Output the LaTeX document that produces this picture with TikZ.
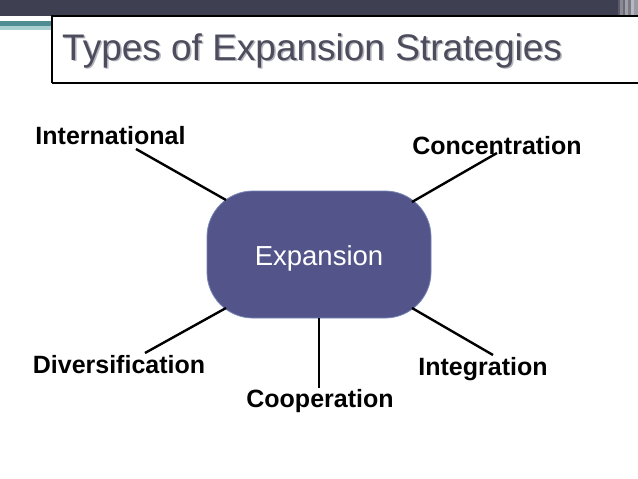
\documentclass[tikz,border=0pt]{standalone}
\usepackage{fontspec}
\setmainfont{Liberation Sans}
\definecolor{barcol}{HTML}{3F3F52}
\definecolor{tealA}{HTML}{4E8E92}
\definecolor{tealB}{HTML}{A9CFD0}
\definecolor{boxfill}{HTML}{53558A}
\definecolor{boxline}{HTML}{7585B5}
\definecolor{titlecol}{HTML}{4C4C5C}
\definecolor{shadowcol}{HTML}{B4B4BC}
\definecolor{sA}{HTML}{5A5A6A}
\definecolor{sB}{HTML}{8A8A95}
\definecolor{sC}{HTML}{6A6A78}
\definecolor{sD}{HTML}{A0A0A8}
\definecolor{sE}{HTML}{7A7A85}
\definecolor{sF}{HTML}{B8B8C0}
\definecolor{sG}{HTML}{9A9AA5}
\tikzset{
  lbl/.style={anchor=base, inner sep=0pt, font=\bfseries\fontsize{25}{28}\selectfont, text=black},
  conn/.style={line width=2.4pt, black},
}
\begin{document}
\begin{tikzpicture}[x=1pt,y=-1pt]
\useasboundingbox (0,0) rectangle (638,479);
\fill[white] (0,0) rectangle (638,479);
% top bar
\fill[barcol] (0,0) rectangle (638,16);
\fill[sA] (618,0) rectangle (620,16);
\fill[sB] (620,0) rectangle (623,16);
\fill[sC] (623,0) rectangle (625,16);
\fill[sD] (625,0) rectangle (628,16);
\fill[sE] (628,0) rectangle (631,16);
\fill[sF] (631,0) rectangle (634,16);
\fill[sG] (634,0) rectangle (638,16);
% teal band
\fill[tealA] (0,21) rectangle (52,26);
\fill[tealB] (0,26) rectangle (52,30);
% title box
\draw[line width=1.3pt, fill=white] (52,83) -- (52,16) -- (645,16);
\draw[line width=1.3pt] (52,83) -- (645,83);
\node[anchor=base west, inner sep=0pt, text=shadowcol, font=\fontsize{37}{40}\selectfont] at (63.5,61.5) {Types of Expansion Strategies};
\node (title) [anchor=base west, inner sep=0pt, text=titlecol, font=\fontsize{37}{40}\selectfont] at (62,60) {Types of Expansion Strategies};
% central node
\node (ex) [minimum width=224pt, minimum height=127pt, rounded corners=46pt, fill=boxfill, draw=boxline, line width=0.8pt, inner sep=0pt] at (319,254.5) {};
\node (extext) [anchor=base, inner sep=0pt, text=white, font=\fontsize{27.5}{30}\selectfont] at (319,265) {Expansion};
% labels
\node (intl) [lbl] at (110.5,144) {International};
\node (conc) [lbl] at (497,154) {Concentration};
\node (div) [lbl] at (119,373) {Diversification};
\node (coop) [lbl] at (320,407) {Cooperation};
\node (integ) [lbl] at (483,375) {Integration};
% connector ends
\coordinate (pI) at (136,149);
\coordinate (qI) at (226,200);
\coordinate (pC) at (497,153);
\coordinate (qC) at (412,202);
\coordinate (pD) at (145,353);
\coordinate (qD) at (226,308);
\coordinate (pO) at (319,388);
\coordinate (qO) at (319,318);
\coordinate (pG) at (493,355);
\coordinate (qG) at (412,308);
\draw[conn] (qI) -- (pI);
\draw[conn] (qC) -- (pC);
\draw[conn] (qD) -- (pD);
\draw[conn] (qO) -- (pO);
\draw[conn] (qG) -- (pG);
\end{tikzpicture}
\end{document}
